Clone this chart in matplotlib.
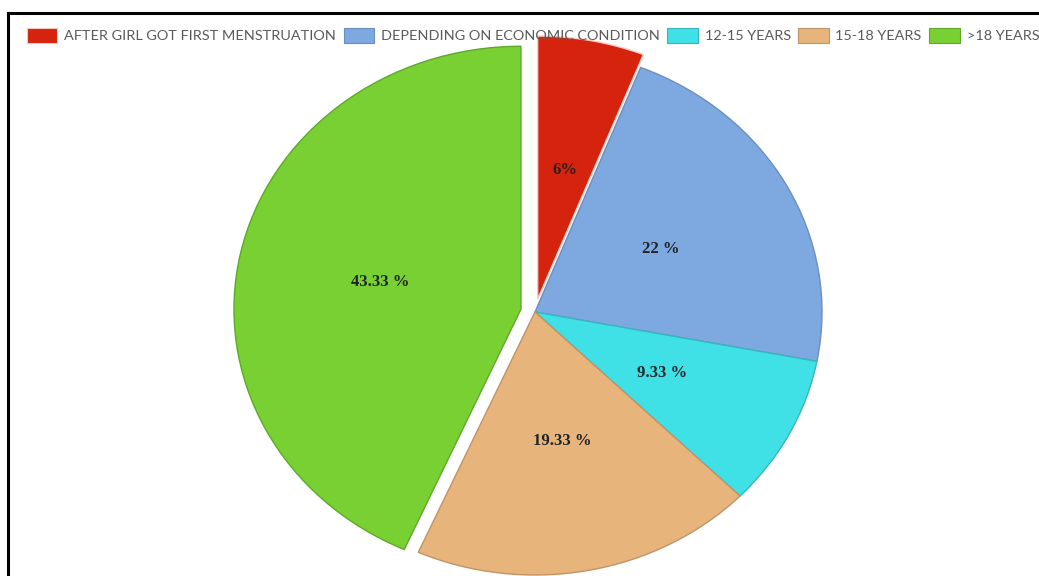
import matplotlib
matplotlib.use("Agg")
import matplotlib.pyplot as plt
from matplotlib.lines import Line2D

# Categories and shares (percent)
categories = [
    "AFTER GIRL GOT FIRST MENSTRUATION",
    "DEPENDING ON ECONOMIC CONDITION",
    "12-15 YEARS",
    "15-18 YEARS",
    ">18 YEARS",
]
shares = [6, 22, 9.33, 19.33, 43.33]
value_labels = ["6%", "22 %", "9.33 %", "19.33 %", "43.33 %"]

fill_colors = ["#D5230E", "#7DA9E0", "#3FE0E6", "#E7B47C", "#79D033"]
edge_colors = ["#F4C8C0", "#6A8FBF", "#35B7BC", "#C09368", "#5FA82A"]
explode = [0.05, 0, 0, 0, 0.05]

W, H = 1039, 576
fig = plt.figure(figsize=(W / 100, H / 100), dpi=100)
fig.patch.set_facecolor("white")

# Pie centre and radii in pixels (slightly wider than tall)
cx, cy = 535, 312
rx, ry = 287, 263
lim = 1.25
ax_w, ax_h = 2 * lim * rx, 2 * lim * ry
left = cx - ax_w / 2
bottom = (H - cy) - ax_h / 2
ax = fig.add_axes([left / W, bottom / H, ax_w / W, ax_h / H])

wedges, texts = ax.pie(
    shares,
    labels=value_labels,
    colors=fill_colors,
    explode=explode,
    startangle=90,
    counterclock=False,
    labeldistance=0.5,
    wedgeprops=dict(linewidth=1.0),
    textprops=dict(family="Liberation Serif", fontweight="bold",
                   fontsize=12, color="#1f2326", ha="center", va="center"),
)
for w, ec in zip(wedges, edge_colors):
    w.set_edgecolor(ec)
ax.set_aspect("auto")
ax.set_xlim(-lim, lim)
ax.set_ylim(-lim, lim)
ax.axis("off")

# Legend across the top
handles = [
    plt.Rectangle((0, 0), 1, 1, facecolor=c, edgecolor=e, linewidth=0.8)
    for c, e in zip(fill_colors, edge_colors)
]
fig.legend(
    handles, categories,
    loc="upper left", bbox_to_anchor=(27 / W, 1 - 28 / H),
    ncol=5, frameon=False,
    handlelength=2.1, handleheight=1.2, handletextpad=0.48,
    columnspacing=0.52, borderaxespad=0, borderpad=0,
    prop=dict(family="Lato", size=10.4),
    labelcolor="#5a5a5a",
)

# Frame lines on the top and left edges
fig.add_artist(Line2D([8 / W, 1.0], [1 - 13 / H, 1 - 13 / H],
                      transform=fig.transFigure, color="black", linewidth=2.2))
fig.add_artist(Line2D([8 / W, 8 / W], [0.0, 1 - 13 / H],
                      transform=fig.transFigure, color="black", linewidth=2.2))

fig.savefig("out.png", dpi=100)
